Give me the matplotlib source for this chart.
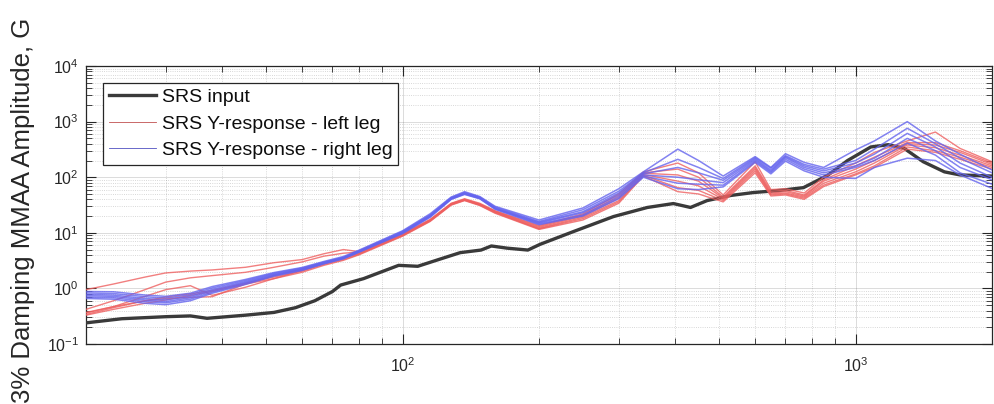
import numpy as np
import matplotlib as mpl
mpl.use("Agg")
import matplotlib.pyplot as plt
from matplotlib.lines import Line2D
from matplotlib.ticker import LogLocator, NullFormatter, LogFormatterMathtext

# ------------------------------------------------------------------------------
#   Data
# ------------------------------------------------------------------------------

# SRS input (Hz, G)
srs_freq = [20, 24, 30, 34, 37, 45, 52, 58, 64, 70, 73, 82, 90, 98, 108, 120,
            134, 149, 157, 170, 189, 201, 238, 292, 347, 396, 432, 470, 530,
            594, 682, 767, 867, 960, 1080, 1180, 1280, 1410, 1570, 1700, 2000]
srs_input = [0.24, 0.285, 0.31, 0.32, 0.29, 0.33, 0.37, 0.45, 0.6, 0.88, 1.15,
             1.5, 2.0, 2.6, 2.5, 3.3, 4.4, 4.9, 5.8, 5.3, 4.9, 6.2, 10.5, 19.6,
             28.6, 33.6, 28.6, 38, 47, 53, 58, 65, 108, 200, 350, 385, 330,
             190, 125, 110, 105]

# Response frequency grid (Hz)
resp_freq = [20, 23, 27, 30, 34, 38, 45, 52, 60, 67, 74, 80, 100, 115, 128,
             137, 148, 160, 200, 250, 300, 340, 405, 450, 510, 600, 650, 700,
             770, 850, 1000, 1100, 1300, 1500, 1700, 2000]

# Y-response, left leg (G)
left_1 = [0.95, 1.2, 1.6, 1.9, 2.05, 2.15, 2.4, 2.9, 3.3, 4.2, 5.0, 4.6, 9.6,
          17.5, 34, 41, 34, 25, 13.5, 22, 50, 125, 180, 120, 48, 190, 60, 62,
          52, 100, 180, 280, 450, 650, 330, 190]
left_2 = [0.42, 0.6, 0.95, 1.3, 1.55, 1.7, 1.95, 2.4, 3.0, 3.8, 4.3, 4.5, 9.4,
          17, 33.5, 40, 33, 24.5, 13, 21, 46, 120, 140, 100, 44, 160, 56, 58,
          48, 90, 160, 230, 420, 420, 300, 180]
left_3 = [0.36, 0.47, 0.72, 0.95, 1.12, 0.75, 1.05, 1.5, 2.1, 2.8, 3.5, 4.3,
          9.2, 16.8, 33, 40, 32.5, 24, 12.5, 20, 42, 118, 110, 85, 42, 150, 52,
          55, 46, 85, 140, 200, 400, 380, 280, 170]
left_4 = [0.34, 0.45, 0.6, 0.66, 0.69, 0.71, 1.2, 1.7, 2.2, 2.9, 3.5, 4.2, 9.0,
          16.5, 32.5, 39, 32, 23.5, 12, 19, 38, 112, 85, 70, 40, 140, 50, 52,
          44, 78, 125, 180, 380, 340, 250, 160]
left_5 = [0.37, 0.47, 0.6, 0.7, 0.8, 0.92, 1.25, 1.6, 2.05, 2.7, 3.3, 4.1, 8.9,
          16.3, 32, 38.5, 31.5, 23, 11.8, 18, 36, 108, 65, 58, 38, 130, 48, 50,
          42, 72, 115, 160, 350, 300, 230, 150]
left_6 = [0.33, 0.42, 0.54, 0.62, 0.75, 0.88, 1.2, 1.5, 1.95, 2.6, 3.2, 4.0,
          8.7, 16, 31.5, 38, 31, 22.5, 11.5, 17, 34, 105, 55, 50, 36, 120, 46,
          48, 40, 68, 110, 150, 320, 280, 210, 140]

# Y-response, right leg (G)
right_1 = [0.88, 0.87, 0.76, 0.72, 0.82, 1.08, 1.45, 1.93, 2.38, 3.05, 3.75,
           4.85, 10.9, 22, 44, 55, 45, 30, 17, 28, 62, 125, 320, 200, 105, 235,
           150, 265, 185, 150, 310, 450, 1000, 450, 260, 135]
right_2 = [0.83, 0.81, 0.71, 0.67, 0.77, 1.02, 1.39, 1.87, 2.32, 2.97, 3.62,
           4.72, 10.6, 21, 43, 53, 44, 29, 16, 26, 56, 120, 210, 150, 95, 225,
           145, 245, 170, 140, 200, 320, 760, 400, 220, 120]
right_3 = [0.78, 0.76, 0.66, 0.62, 0.72, 0.96, 1.33, 1.81, 2.26, 2.91, 3.56,
           4.62, 10.3, 20.5, 42, 52, 43, 28, 15.5, 24, 52, 115, 150, 120, 88,
           215, 135, 235, 160, 130, 180, 260, 615, 350, 180, 100]
right_4 = [0.74, 0.72, 0.62, 0.58, 0.68, 0.91, 1.28, 1.76, 2.21, 2.86, 3.51,
           4.56, 10.1, 20, 41, 51, 42, 27.5, 15, 23, 48, 110, 100, 90, 80, 205,
           128, 225, 150, 120, 160, 220, 500, 300, 150, 90]
right_5 = [0.70, 0.68, 0.58, 0.55, 0.64, 0.86, 1.23, 1.71, 2.16, 2.81, 3.46,
           4.51, 9.9, 19.5, 40.5, 50, 41.5, 27, 14.5, 21, 44, 105, 78, 75, 72,
           195, 122, 210, 140, 110, 150, 200, 410, 250, 120, 75]
right_6 = [0.66, 0.64, 0.54, 0.51, 0.60, 0.82, 1.18, 1.66, 2.11, 2.76, 3.41,
           4.46, 9.7, 19, 40, 49, 41, 26.5, 14, 20, 41, 100, 62, 60, 67, 185,
           115, 195, 130, 100, 95, 150, 220, 200, 110, 63]

# ------------------------------------------------------------------------------
#   Prepare figure
# ------------------------------------------------------------------------------

AX_COLOR = "0.15"
C_INPUT = "#3a3a3a"
C_LEFT = "#ee5f5f"
C_RIGHT = "#6464ee"

mpl.rcParams['font.family'] = ['Liberation Sans', 'DejaVu Sans']
mpl.rcParams['mathtext.fontset'] = 'custom'
mpl.rcParams['mathtext.rm'] = 'Liberation Sans'
mpl.rcParams['mathtext.it'] = 'Liberation Sans:italic'

fig = plt.figure(figsize=(9.94, 4.04), dpi=100)
ax = fig.add_axes([0.0865, 0.1485, 0.9115, 0.688])

# ------------------------------------------------------------------------------
#   Plot
# ------------------------------------------------------------------------------

ax.plot(srs_freq, srs_input, '-', color=C_INPUT, linewidth=2.4, zorder=3)

for y in [left_1, left_2, left_3, left_4, left_5, left_6]:
    ax.plot(resp_freq, y, '-', color=C_LEFT, linewidth=1.0, alpha=0.8,
            zorder=4)

for y in [right_1, right_2, right_3, right_4, right_5, right_6]:
    ax.plot(resp_freq, y, '-', color=C_RIGHT, linewidth=1.1, alpha=0.8,
            zorder=5)

ax.set_xscale('log')
ax.set_yscale('log')
ax.set_xlim(20, 2000)
ax.set_ylim(1e-1, 1e4)

ax.yaxis.set_major_locator(LogLocator(base=10, numticks=10))
ax.yaxis.set_minor_locator(LogLocator(base=10, subs=np.arange(2, 10),
                                      numticks=20))
ax.xaxis.set_minor_locator(LogLocator(base=10, subs=np.arange(2, 10),
                                      numticks=20))
ax.xaxis.set_minor_formatter(NullFormatter())
ax.yaxis.set_minor_formatter(NullFormatter())
ax.xaxis.set_major_formatter(LogFormatterMathtext())
ax.yaxis.set_major_formatter(LogFormatterMathtext())

ax.tick_params(which='both', direction='in', top=True, right=True,
               color=AX_COLOR, labelcolor=AX_COLOR, labelsize=11.5)
ax.tick_params(which='major', length=7, width=0.8)
ax.tick_params(which='minor', length=4, width=0.6)
ax.tick_params(axis='x', pad=9)
ax.tick_params(axis='y', pad=5)

for s in ax.spines.values():
    s.set_color(AX_COLOR)
    s.set_linewidth(0.9)

ax.grid(True, which='major', color=AX_COLOR, alpha=0.16, linewidth=0.7,
        linestyle='-')
ax.grid(True, which='minor', color=AX_COLOR, alpha=0.24, linewidth=0.6,
        linestyle=':')

ax.set_ylabel("3% Damping MMAA Amplitude, G", fontsize=18.5, color=AX_COLOR)
ax.yaxis.set_label_coords(-0.056, 0.48)

# ------------------------------------------------------------------------------
#   Legend
# ------------------------------------------------------------------------------

handles = [Line2D([], [], color=C_INPUT, linewidth=2.4),
           Line2D([], [], color="#c05050", linewidth=0.6),
           Line2D([], [], color="#5050c0", linewidth=0.6)]
labels = ["SRS input", "SRS Y-response - left leg",
          "SRS Y-response - right leg"]
leg = ax.legend(handles, labels, loc='upper left',
                bbox_to_anchor=(0.019, 0.94), fontsize=14, fancybox=False,
                framealpha=1, edgecolor=AX_COLOR, handlelength=2.4,
                handletextpad=0.3, labelspacing=0.45, borderpad=0.3,
                borderaxespad=0)
leg.get_frame().set_linewidth(0.9)
for t in leg.get_texts():
    t.set_color("0.05")

# ------------------------------------------------------------------------------
#   Save figure
# ------------------------------------------------------------------------------

fig.savefig("out.png", dpi=100)
